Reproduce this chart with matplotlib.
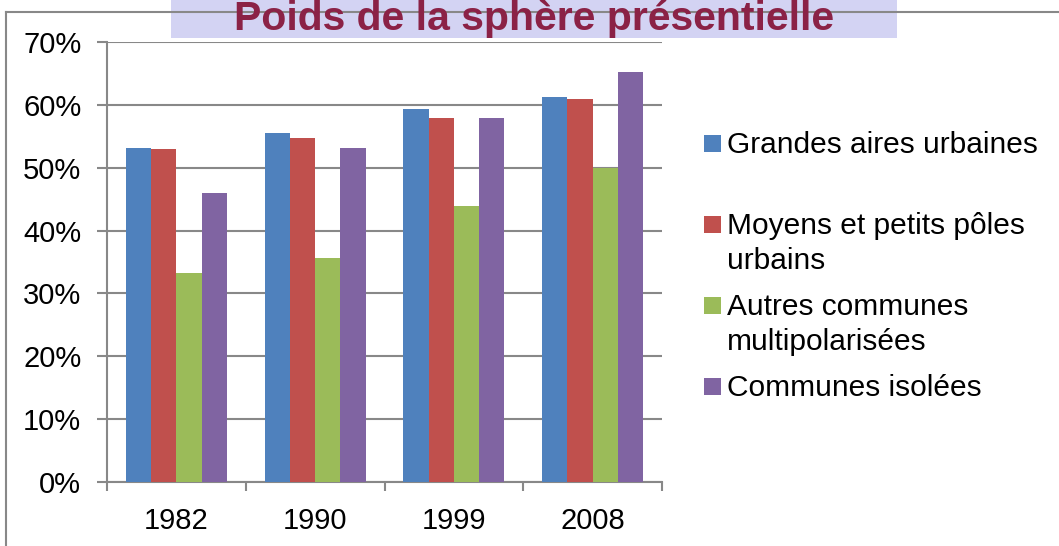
import numpy as np
import matplotlib.pyplot as plt
from matplotlib.patches import Rectangle
from matplotlib.lines import Line2D

plt.rcParams['font.family'] = ['Liberation Sans', 'DejaVu Sans']

annees = ['1982', '1990', '1999', '2008']
series = ['Grandes aires urbaines', 'Moyens et petits pôles\nurbains',
          'Autres communes\nmultipolarisées', 'Communes isolées']
grandes_aires = [53.2, 55.5, 59.4, 61.2]
moyens_petits = [52.9, 54.7, 57.9, 60.9]
autres_communes = [33.2, 35.6, 43.9, 49.9]
communes_isolees = [46.0, 53.2, 57.9, 65.3]
couleurs = ['#4F81BD', '#C0504D', '#9BBB59', '#8064A2']

W, H = 1059, 546
fig = plt.figure(figsize=(W / 100, H / 100), dpi=100)

# cadre et bandeau du titre
fig.add_artist(Line2D([6 / W, 1], [1 - 12 / H, 1 - 12 / H], color='#888888', lw=1.5))
fig.add_artist(Line2D([6 / W, 6 / W], [0, 1 - 12 / H], color='#888888', lw=1.5))
fig.add_artist(Rectangle((171 / W, 1 - 38 / H), (897 - 171) / W, 38 / H,
                         facecolor='#D3D3F3', edgecolor='none'))
fig.text(534 / W, 1 - 30 / H, 'Poids de la sphère présentielle', ha='center', va='baseline',
         fontsize=29.5, fontweight='bold', color='#8B2246')

ax = fig.add_axes([107 / W, 64 / H, (662 - 107) / W, 440 / H])
x = np.arange(len(annees))
largeur = 0.182
valeurs = [grandes_aires, moyens_petits, autres_communes, communes_isolees]
for i, (vals, c) in enumerate(zip(valeurs, couleurs)):
    ax.bar(x + (i - 1.5) * largeur, vals, largeur, color=c, zorder=3)

ax.set_xlim(-0.5, 3.5)
ax.set_ylim(0, 70)
ax.set_yticks(range(0, 71, 10))
ax.set_yticklabels([f'{v}%' for v in range(0, 71, 10)], fontsize=21)
ax.set_xticks(x)
ax.set_xticklabels(annees, fontsize=21)
ax.set_xticks(np.arange(-0.5, 4, 1), minor=True)
ax.tick_params(axis='x', which='major', length=0, pad=18)
ax.tick_params(axis='x', which='minor', length=6.5, width=1.5, color='#888888')
ax.tick_params(axis='y', length=7.5, width=1.5, color='#888888', pad=11)
ax.grid(axis='y', color='#888888', lw=1.5, zorder=0)
for s in ['top', 'right']:
    ax.spines[s].set_visible(False)
for s in ['left', 'bottom']:
    ax.spines[s].set_color('#888888')
    ax.spines[s].set_linewidth(1.5)

# légende à la manière d'Excel : carré aligné sur la première ligne du libellé
for i, (nom, c) in enumerate(zip(series, couleurs)):
    base = 153 + 81 * i
    nb_lignes = nom.count('\n') + 1
    fig.add_artist(Rectangle((704 / W, 1 - (base - 1) / H), 17 / W, 17 / H,
                             facecolor=c, edgecolor='none'))
    fig.text(727 / W, 1 - (base + 35 * (nb_lignes - 1)) / H, nom, ha='left', va='baseline',
             fontsize=21.5, linespacing=1.34)

fig.savefig('out.png', dpi=100)
